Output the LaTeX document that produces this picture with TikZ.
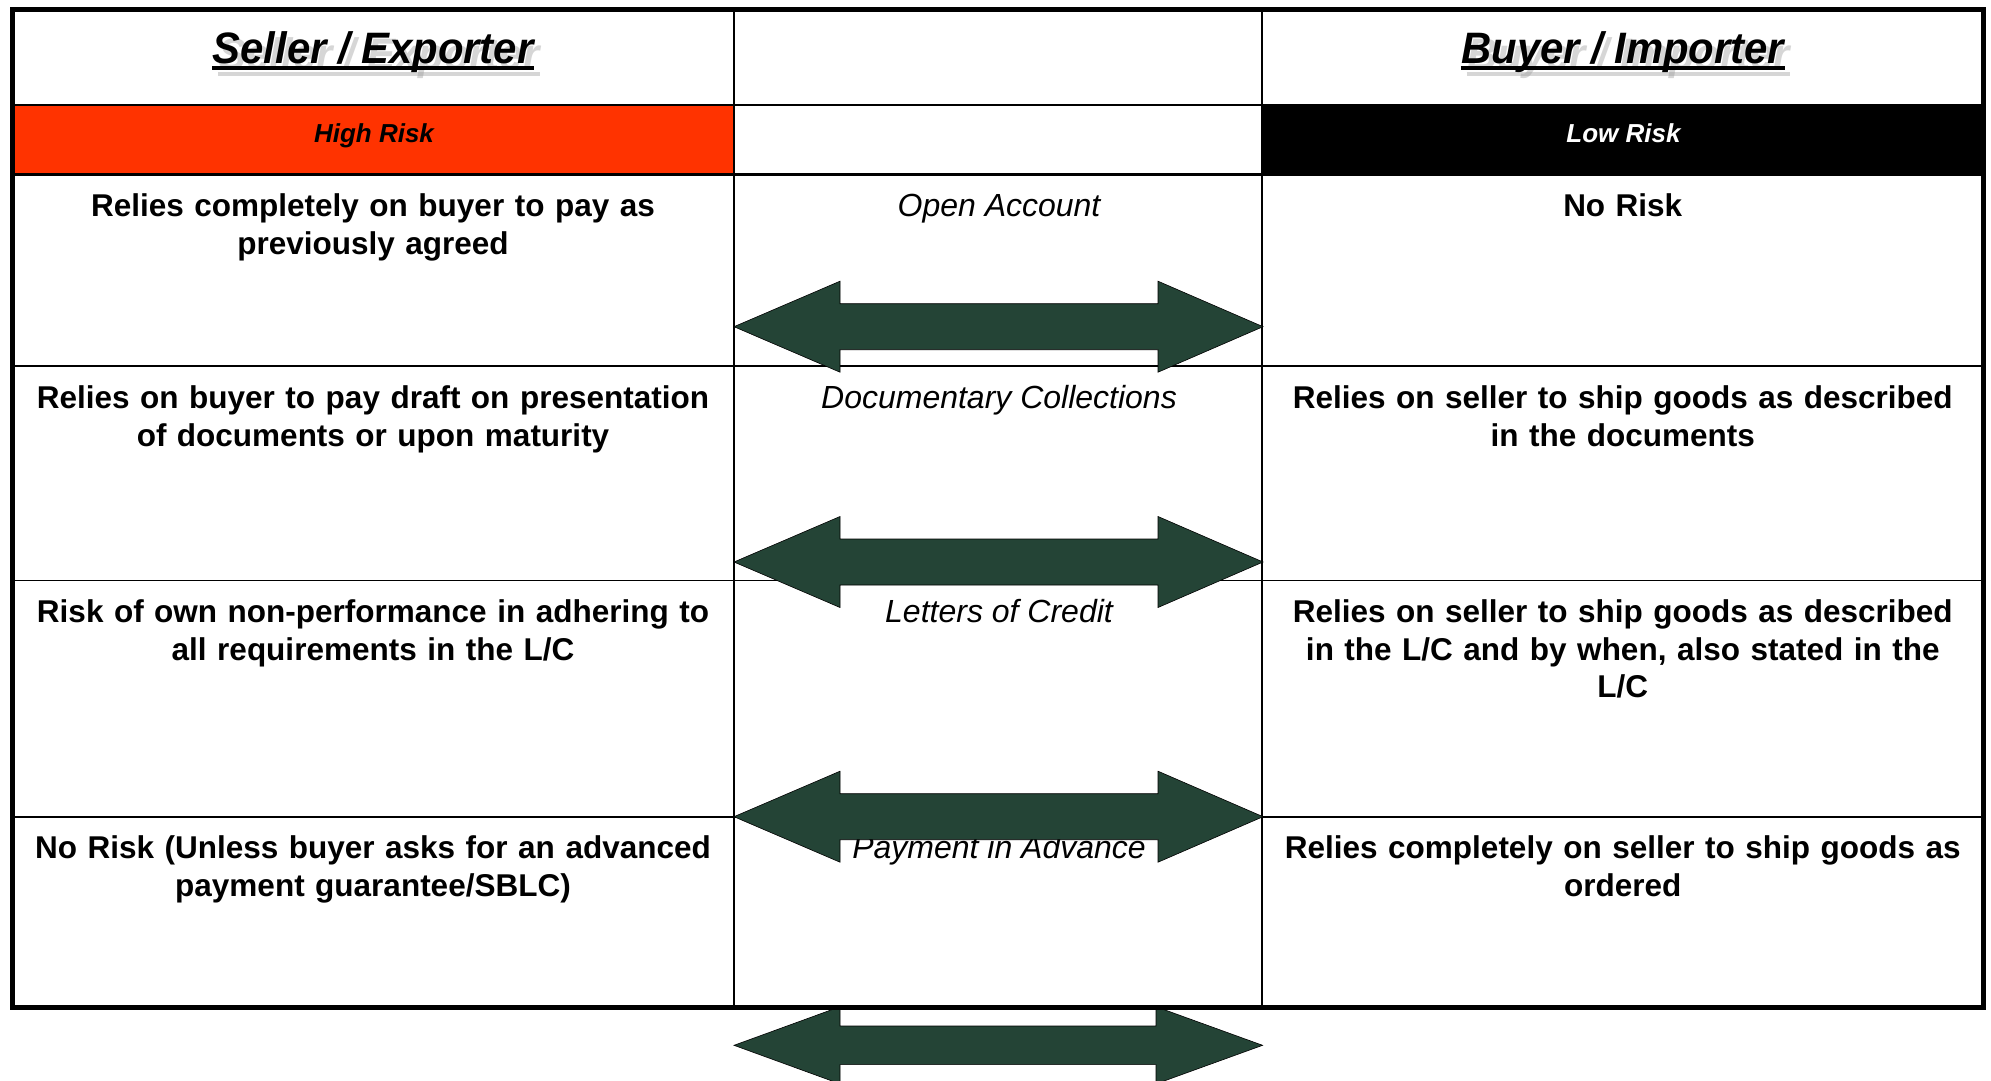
\documentclass[tikz,border=0pt]{standalone}
\usepackage{fontspec}
\setmainfont{Liberation Sans}
\newfontfamily\hdrfam[FakeStretch=0.95]{Liberation Sans}
\usetikzlibrary{calc}
\definecolor{riskred}{HTML}{FF3300}
\definecolor{arrowgreen}{RGB}{36,68,54}
\newcommand\tradearrow[7]{% cy, headhalf, shafthalf, xl, xbl, xbr, xr
  \draw[arrowshape] (#4,#1) -- (#5,#1-#2) -- (#5,#1-#3) -- (#6,#1-#3) -- (#6,#1-#2)
    -- (#7,#1) -- (#6,#1+#2) -- (#6,#1+#3) -- (#5,#1+#3) -- (#5,#1+#2) -- cycle;}
\begin{document}
\begin{tikzpicture}[x=0.5pt,y=-0.5pt,
  cellline/.style={line width=0.9pt,black},
  outerline/.style={line width=2.5pt,black},
  arrowshape/.style={fill=arrowgreen,draw=black,line width=0.3pt,line join=miter},
  bodytext/.style={font=\fontsize{15.75}{18.85}\selectfont\bfseries,align=center,
    text width=355pt,inner sep=0pt,anchor=base},
  midlabel/.style={font=\fontsize{16}{18.85}\selectfont\itshape,inner sep=0pt,anchor=base},
  risktext/.style={font=\fontsize{13}{15}\selectfont\bfseries\itshape,inner sep=0pt,anchor=base},
  hdrtext/.style={font=\hdrfam\fontsize{22}{26}\selectfont\bfseries\itshape,inner sep=0pt,anchor=base},
  hdrshadow/.style={hdrtext,text=black!40,opacity=0.4},
  uline/.style={line width=2pt,black},
  ulshadow/.style={line width=2pt,black!40,opacity=0.4}
]
\useasboundingbox (0,0) rectangle (1991,1081);
\fill[white] (0,0) rectangle (1991,1081);

% risk row fills
\fill[riskred] (12.5,105.2) rectangle (734,174.5);
\fill[black] (1262,105.2) rectangle (1983.5,174.5);

% grid lines
\draw[cellline] (12.5,105.2) -- (1983.5,105.2);
\draw[line width=1.2pt] (12.5,174.5) -- (1983.5,174.5);
\draw[cellline] (12.5,366) -- (1983.5,366);
\draw[cellline] (12.5,580.5) -- (1983.5,580.5);
\draw[cellline] (12.5,816.7) -- (1983.5,816.7);
\draw[cellline] (734,9.8) -- (734,1007.5);
\draw[cellline] (1262,9.8) -- (1262,1007.5);

% headings with shadow
\node[hdrshadow] (sellersh) at (379,69.5) {Seller / Exporter};
\node[hdrshadow] (buyersh) at (1628.5,69.5) {Buyer / Importer};
\draw[ulshadow] ($(sellersh.base west)+(0,4.3)$) -- ($(sellersh.base east)+(0,4.3)$);
\draw[ulshadow] ($(buyersh.base west)+(0,4.3)$) -- ($(buyersh.base east)+(0,4.3)$);
\node[hdrtext] (sellerh) at (373,63.5) {Seller / Exporter};
\node[hdrtext] (buyerh) at (1622.75,63.5) {Buyer / Importer};
\draw[uline] ($(sellerh.base west)+(0,4.3)$) -- ($(sellerh.base east)+(0,4.3)$);
\draw[uline] ($(buyerh.base west)+(0,4.3)$) -- ($(buyerh.base east)+(0,4.3)$);

% risk labels
\node[risktext] (highrisk) at (374,142.7) {High Risk};
\node[risktext,text=white] (lowrisk) at (1623.5,142.7) {Low Risk};

% left column
\node[bodytext] (l1) at (373,216.7) {Relies completely on buyer to pay as\\previously agreed};
\node[bodytext] (l2) at (373,408.3) {Relies on buyer to pay draft on presentation\\of documents or upon maturity};
\node[bodytext] (l3) at (373,622.3) {Risk of own non-performance in adhering to\\all requirements in the L/C};
\node[bodytext] (l4) at (373,858.5) {No Risk (Unless buyer asks for an advanced\\payment guarantee/SBLC)};

% middle column
\node[midlabel] (m1) at (999,216.7) {Open Account};
\node[midlabel] (m2) at (999,408.3) {Documentary Collections};
\node[midlabel] (m3) at (999,622.3) {Letters of Credit};
\node[midlabel] (m4) at (999,858.5) {Payment in Advance};

% right column
\node[bodytext] (r1) at (1622.75,216.7) {No Risk};
\node[bodytext] (r2) at (1622.75,408.3) {Relies on seller to ship goods as described\\in the documents};
\node[bodytext] (r3) at (1622.75,622.3) {Relies on seller to ship goods as described\\in the L/C and by when, also stated in the\\L/C};
\node[bodytext] (r4) at (1622.75,858.5) {Relies completely on seller to ship goods as\\ordered};

% arrows
\tradearrow{326.7}{45.5}{23}{734}{840}{1158}{1263}
\tradearrow{562}{45.5}{23}{734}{840}{1158}{1263}
\tradearrow{816.7}{45.5}{23}{734}{840}{1158}{1263}
\tradearrow{1045.3}{38.6}{19.3}{734}{840}{1156}{1262.6}

% outer border
\draw[outerline] (12.5,9.8) rectangle (1983.5,1007.5);
\end{tikzpicture}
\end{document}
